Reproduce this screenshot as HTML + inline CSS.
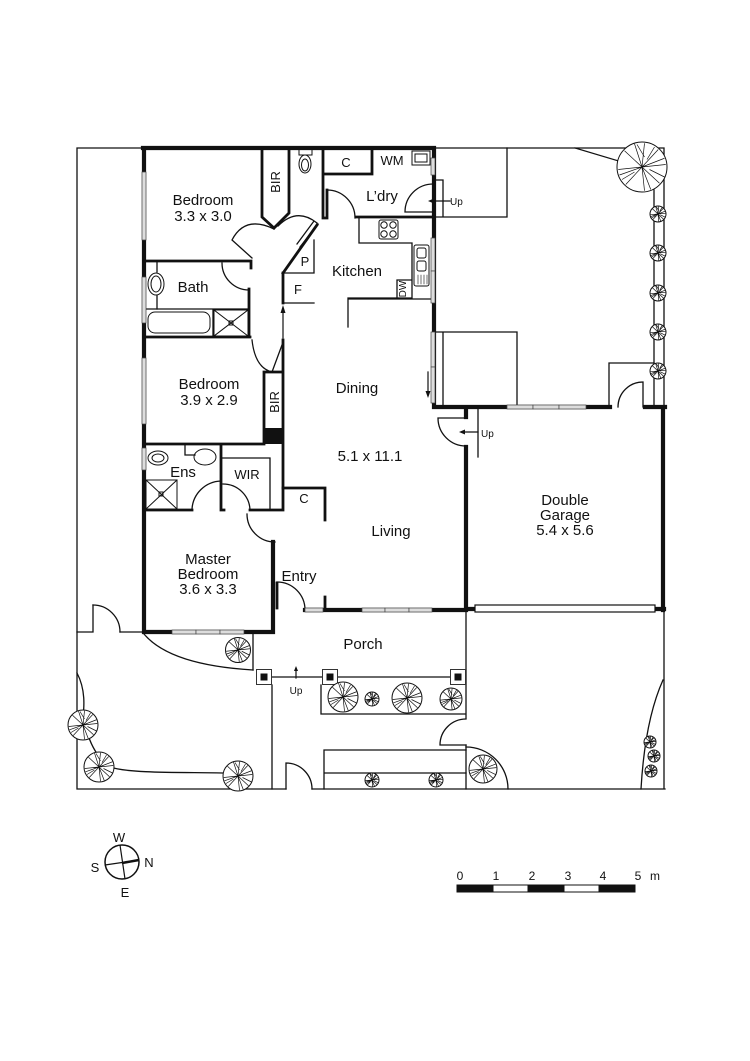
<!DOCTYPE html>
<html><head><meta charset="utf-8"><style>
html,body{margin:0;padding:0;background:#fff;}
svg{display:block;}
text{font-family:"Liberation Sans",Arial,sans-serif;fill:#111;}
</style></head><body>
<svg width="750" height="1061" viewBox="0 0 750 1061" xmlns="http://www.w3.org/2000/svg">
<defs>
<g id="tree">
<circle r="10" fill="#fff" stroke="#111" stroke-width="1" vector-effect="non-scaling-stroke"/>
<path d="M0,0L1,-9.5M0,0L6.5,-7M0,0L9.5,-1M0,0L7,6.5M0,0L1,9.5M0,0L-6.5,7M0,0L-9.5,1M0,0L-7,-6.5M0,0L-3,-9.3M0,0L9,-3.5M0,0L3.5,9M0,0L-9,3.2M-2,-9L1,-4M5,-8L2,-3M9,4L3,1M-8,5L-3,2" stroke="#111" stroke-width="0.7" fill="none" vector-effect="non-scaling-stroke"/>
</g>
<g id="col"><rect x="-7.5" y="-7.5" width="15" height="15" fill="#fff" stroke="#333" stroke-width="1"/><rect x="-3.5" y="-3.5" width="7" height="7" fill="#111"/></g>
</defs>

<g fill="none" stroke="#111" stroke-linecap="square">
<!-- site boundary thin -->
<g stroke-width="1.3">
<path d="M77,148H144M434,148H664V407M654,190V407M664,612V789M77,148V789M77,789H286M312,789H665"/>
<path d="M77,632H93V605M120,632H144"/>
<path d="M93,605A27,27 0 0,1 120,632"/>
<!-- top right deck -->
<path d="M433,217H507V148M433,180H443V217"/>
<path d="M575,148L622,162"/>
<!-- deck near dining -->
<path d="M433,332H517V407M443,332V407"/>
<path d="M609,407V363H654"/>
<path d="M618,407A25,25 0 0,1 643,382V407"/>
<!-- garage step -->
<path d="M466,407H478V457"/>
<path d="M438,418H466M438,418A28,28 0 0,0 466,446"/>
<!-- porch -->
<path d="M253,632V670M272,685V789M272,677H323M338,677H450M321,685V714H466M466,612V718M466,745V789"/>
<path d="M440,745H466M440,745A26,26 0 0,1 466,719"/>
<path d="M466,747A42,42 0 0,1 508,789"/>
<path d="M324,789V750H466M324,773H466"/>
<path d="M286,789V763A26,26 0 0,1 312,789"/>
<path d="M663,680Q645,720 641,789"/>
<!-- lawn curves -->
<path d="M144,634Q170,665 253,670"/>
<path d="M77,673C86,690 84,708 83,718M88,735C93,750 100,760 110,767C130,774 190,772 225,773"/>
</g>

<!-- exterior thick walls -->
<g stroke-width="4.2">
<path d="M143,148H434V407H610M645,407H665M144,148V632H273V542M466,407V417M466,447V610M663,407V610M305,610H466M466,609H475M655,609H664"/>
</g>
<!-- internal walls -->
<g stroke-width="2.8">
<path d="M144,261H251V268M144,337H250M249,289V337M144,444H264M283,273V303M283,340V510M221,444V510M144,510H192M221,510H224M250,510H283M264,372H283M264,372V444"/>
<path d="M262,150V217L274,228L289,213V150"/>
<path d="M323,150V218H327M327,190V218M323,174H372V150"/>
<path d="M356,217H433"/>
<path d="M283,488H325V520M325,597V610M277,583V608"/>
<path d="M283,273L317,225"/>
</g>
<rect x="264" y="428" width="19" height="16" fill="#111" stroke="none"/>
<g stroke-width="1.3">
<path d="M283,273H314V240M283,303H314"/>
<path d="M359,217V243H412V298H348V327M348,299H432"/>
<path d="M397,298V280H411"/>
<path d="M222,458H270V510M185,444V455H195"/>
<path d="M144,309H248M213,309V336"/>
<path d="M157,261V272M157,296V309"/>
<!-- doors -->
<path d="M252,258L232,240Q245,215 274,229"/>
<path d="M278,226Q297,207 317,223M318,224L300,247M314,221L297,244"/>
<path d="M222,263A27,27 0 0,0 249,290"/>
<path d="M252,340Q255,368 272,372L282,345"/>
<path d="M327,218V190A28,28 0 0,1 355,218"/>
<path d="M433,184A28,28 0 0,0 405,212H433"/>
<path d="M192,509A30,30 0 0,1 221,481M223,484A27,27 0 0,1 250,510"/>
<path d="M247,514A28,28 0 0,0 275,542"/>
<path d="M277,582A28,28 0 0,1 305,610"/>
</g>
<!-- fixtures -->
<g stroke-width="1">
<rect x="379" y="220" width="19" height="19" rx="2"/>
<circle cx="384" cy="225" r="3.2"/><circle cx="393" cy="225" r="3.2"/><circle cx="384" cy="234" r="3.2"/><circle cx="393" cy="234" r="3.2"/>
<rect x="414" y="245" width="15" height="41" rx="2"/>
<rect x="417" y="248" width="9" height="10" rx="2"/><rect x="417" y="261" width="9" height="10" rx="2"/>
<path d="M418,275V284M421,275V284M424,275V284M427,275V284" stroke-width="0.6"/>
<rect x="412" y="151" width="18" height="14"/><rect x="415" y="154" width="12" height="8"/>
<rect x="299" y="149" width="13" height="6"/><ellipse cx="305" cy="164" rx="6" ry="9"/><ellipse cx="305" cy="165" rx="3.5" ry="6"/>
<ellipse cx="156" cy="284" rx="8" ry="11"/><ellipse cx="156" cy="284" rx="5" ry="8"/>
<rect x="148" y="312" width="62" height="21" rx="7"/>
<rect x="214" y="310" width="34" height="26"/><path d="M214,310L248,336M248,310L214,336"/><rect x="229" y="321" width="4" height="4"/>
<rect x="146" y="480" width="31" height="29"/><path d="M146,480L177,509M177,480L146,509"/><rect x="159" y="492" width="4" height="4"/>
<ellipse cx="158" cy="458" rx="10" ry="7"/><ellipse cx="158" cy="458" rx="6" ry="4"/>
<ellipse cx="205" cy="457" rx="11" ry="8"/>
</g>
<!-- arrows -->
<g stroke-width="1.2">
<path d="M283,338V310M428,372V394M450,201H432M478,432H462M296,678V670"/>
</g>
</g>
<g fill="#111">
<path d="M283,305L280.5,313H285.5Z"/>
<path d="M428,398L425.5,391H430.5Z"/>
<path d="M428,201L434,198.5V203.5Z"/>
<path d="M459,432L465,429.5V434.5Z"/>
<path d="M296,666L294,671H298Z"/>
</g>

<!-- windows -->
<g fill="#ddd" stroke="#444" stroke-width="0.7">
<rect x="142" y="172" width="4" height="68"/>
<rect x="142" y="277" width="4" height="46"/>
<rect x="142" y="358" width="4" height="66"/>
<rect x="142" y="448" width="4" height="22"/>
<rect x="431" y="158" width="4" height="17"/>
<rect x="431" y="238" width="4" height="33"/><rect x="431" y="271" width="4" height="32"/>
<rect x="431" y="332" width="4" height="35"/><rect x="431" y="367" width="4" height="36"/>
<rect x="507" y="405" width="26" height="4"/><rect x="533" y="405" width="26" height="4"/><rect x="559" y="405" width="27" height="4"/>
<rect x="305" y="608" width="18" height="4"/>
<rect x="362" y="608" width="23" height="4"/><rect x="385" y="608" width="24" height="4"/><rect x="409" y="608" width="23" height="4"/>
<rect x="172" y="630" width="24" height="4"/><rect x="196" y="630" width="24" height="4"/><rect x="220" y="630" width="24" height="4"/>
</g>
<rect x="475" y="605" width="180" height="7" fill="#fff" stroke="#111" stroke-width="1.2"/>

<!-- columns -->
<use href="#col" transform="translate(264,677)"/>
<use href="#col" transform="translate(330,677)"/>
<use href="#col" transform="translate(458,677)"/>

<!-- trees -->
<use href="#tree" transform="translate(642,167) scale(2.5)"/>
<use href="#tree" transform="translate(658,214) scale(0.8)"/>
<use href="#tree" transform="translate(658,253) scale(0.8)"/>
<use href="#tree" transform="translate(658,293) scale(0.8)"/>
<use href="#tree" transform="translate(658,332) scale(0.8)"/>
<use href="#tree" transform="translate(658,371) scale(0.8)"/>
<use href="#tree" transform="translate(238,650) scale(1.25)"/>
<use href="#tree" transform="translate(83,725) scale(1.5)"/>
<use href="#tree" transform="translate(99,767) scale(1.5)"/>
<use href="#tree" transform="translate(238,776) scale(1.5)"/>
<use href="#tree" transform="translate(343,697) scale(1.5)"/>
<use href="#tree" transform="translate(372,699) scale(0.7)"/>
<use href="#tree" transform="translate(407,698) scale(1.5)"/>
<use href="#tree" transform="translate(451,699) scale(1.1)"/>
<use href="#tree" transform="translate(372,780) scale(0.7)"/>
<use href="#tree" transform="translate(436,780) scale(0.7)"/>
<use href="#tree" transform="translate(483,769) scale(1.4)"/>
<use href="#tree" transform="translate(650,742) scale(0.6)"/>
<use href="#tree" transform="translate(654,756) scale(0.6)"/>
<use href="#tree" transform="translate(651,771) scale(0.6)"/>

<!-- labels -->
<g font-size="15" text-anchor="middle">
<text x="203" y="205">Bedroom</text><text x="203" y="221">3.3 x 3.0</text>
<text x="382" y="201">L’dry</text>
<text x="357" y="276">Kitchen</text>
<text x="193" y="292">Bath</text>
<text x="209" y="389">Bedroom</text><text x="209" y="405">3.9 x 2.9</text>
<text x="357" y="393">Dining</text>
<text x="370" y="461">5.1 x 11.1</text>
<text x="183" y="477">Ens</text>
<text x="391" y="536">Living</text>
<text x="208" y="564">Master</text><text x="208" y="579">Bedroom</text><text x="208" y="594">3.6 x 3.3</text>
<text x="299" y="581">Entry</text>
<text x="363" y="649">Porch</text>
<text x="565" y="505">Double</text><text x="565" y="520">Garage</text><text x="565" y="535">5.4 x 5.6</text>
</g>
<g font-size="13" text-anchor="middle">
<text x="346" y="167">C</text>
<text x="392" y="165">WM</text>
<text x="305" y="266">P</text>
<text x="298" y="294">F</text>
<text x="247" y="479">WIR</text>
<text x="304" y="503">C</text>
<text transform="translate(280,182) rotate(-90)">BIR</text>
<text transform="translate(279,402) rotate(-90)">BIR</text>
</g>
<g font-size="10">
<text transform="translate(406,289) rotate(-90)" text-anchor="middle">DW</text>
<text x="450" y="205">Up</text>
<text x="481" y="437">Up</text>
<text x="296" y="694" text-anchor="middle">Up</text>
</g>

<!-- compass -->
<g fill="none" stroke="#111">
<circle cx="122" cy="862" r="17" stroke-width="1.5"/>
<path d="M120,845L125,879M105,865L139,860" stroke-width="1.2"/>
<path d="M122,863L139,860" stroke-width="2.5"/>
</g>
<g font-size="13" text-anchor="middle">
<text x="119" y="842">W</text>
<text x="149" y="867">N</text>
<text x="95" y="872">S</text>
<text x="125" y="897">E</text>
</g>

<!-- scale bar -->
<g stroke="#111" stroke-width="1">
<rect x="457" y="885" width="36" height="7" fill="#111"/>
<rect x="493" y="885" width="35" height="7" fill="#fff"/>
<rect x="528" y="885" width="36" height="7" fill="#111"/>
<rect x="564" y="885" width="35" height="7" fill="#fff"/>
<rect x="599" y="885" width="36" height="7" fill="#111"/>
</g>
<g font-size="12" text-anchor="middle">
<text x="460" y="880">0</text><text x="496" y="880">1</text><text x="532" y="880">2</text>
<text x="568" y="880">3</text><text x="603" y="880">4</text><text x="638" y="880">5</text><text x="655" y="880">m</text>
</g>
</svg>
</body></html>
